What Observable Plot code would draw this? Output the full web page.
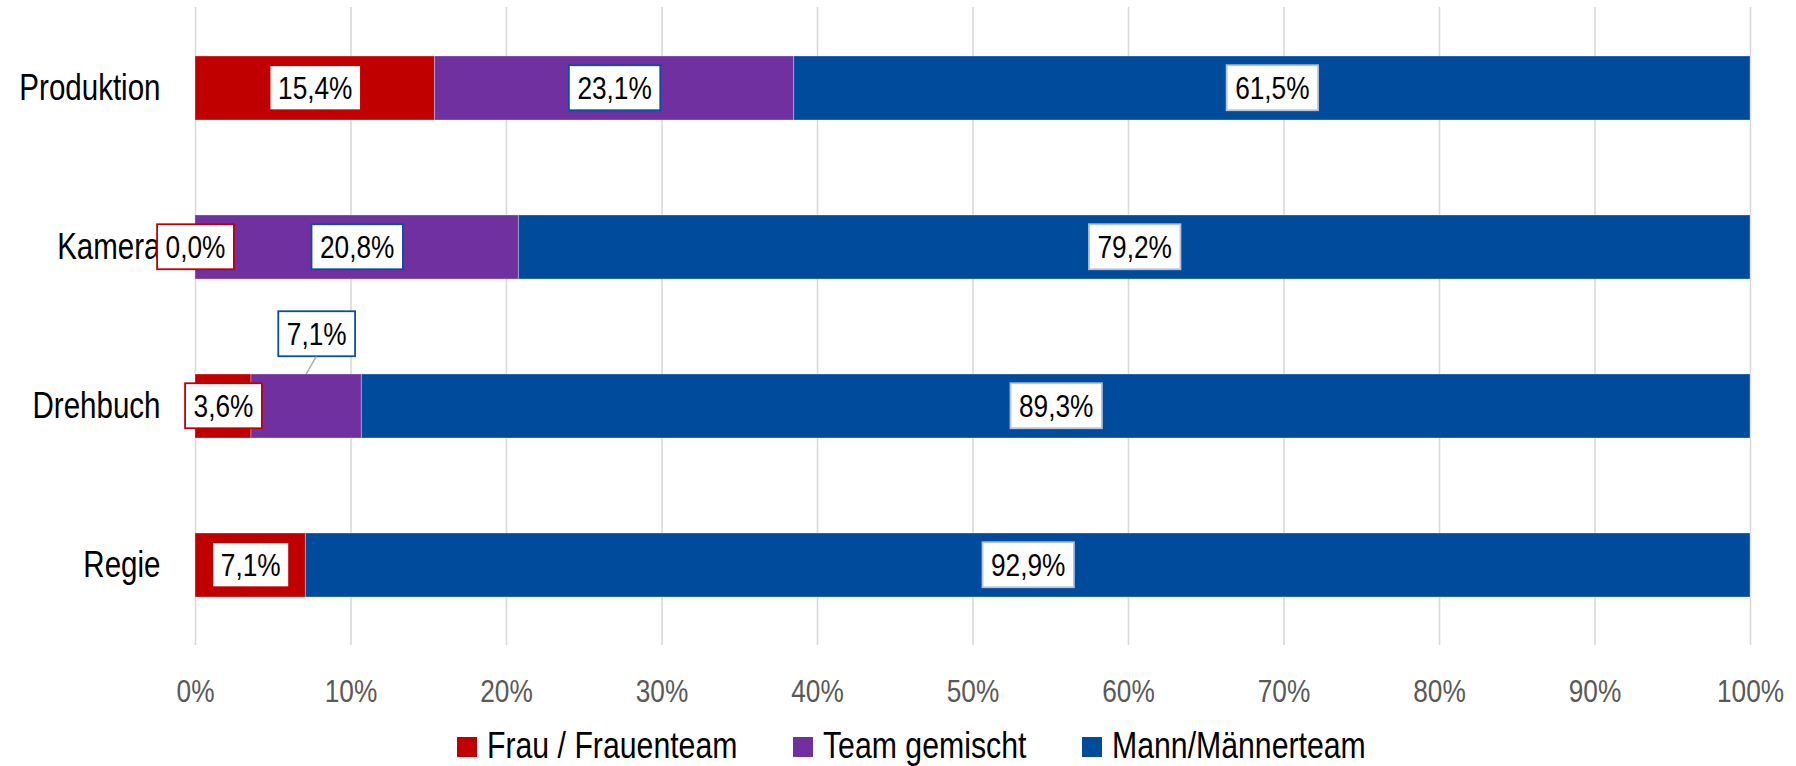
<!DOCTYPE html>
<html>
<head>
<meta charset="utf-8">
<script src="https://cdn.jsdelivr.net/npm/d3@7"></script>
<script src="https://cdn.jsdelivr.net/npm/@observablehq/plot@0.6"></script>
<style>
  html, body { margin: 0; padding: 0; background: #fff; }
  body { width: 1796px; height: 766px; overflow: hidden; font-family: "Liberation Sans", Arial, sans-serif; }
  #legend { display: flex; justify-content: center; align-items: center; gap: 56px; height: 41px; margin-top: 5px; padding-left: 27px; font-size: 36px; color: #000; line-height: 41px; }
  #legend .item { display: flex; align-items: center; white-space: nowrap; }
  #legend .sw { display: inline-block; width: 20px; height: 20px; margin-right: 10px; flex: none; position: relative; top: 1px; }
  #legend .tx { display: inline-block; white-space: nowrap; transform-origin: 0 50%; }
</style>
</head>
<body>
<div id="chart"></div>
<div id="legend"></div>
<script>
const categories = ["Produktion", "Kamera", "Drehbuch", "Regie"];
const series = ["Frau / Frauenteam", "Team gemischt", "Mann/Männerteam"];
const frau = [15.4, 0.0, 3.6, 7.1];
const gemischt = [23.1, 20.8, 7.1, null];
const mann = [61.5, 79.2, 89.3, 92.9];
const colors = ["#c00000", "#7030a0", "#004b9b"];
const boxColors = ["#c00000", "#0a4ea2", "#b4c3de"];
const xTicks = [0, 10, 20, 30, 40, 50, 60, 70, 80, 90, 100];
// label moved above the bar with a leader line
const calloutCategory = "Drehbuch";
const calloutSeries = "Team gemischt";

const NARROW = 0.82;        // emulate a narrow typeface
const NARROW_LEGEND = 0.84;
const FONT = '"Liberation Sans", Arial, sans-serif';

const valuesBySeries = [frau, gemischt, mann];
const data = [];
categories.forEach((c, i) => {
  series.forEach((s, j) => {
    data.push({category: c, series: s, value: valuesBySeries[j][i]});
  });
});

const fmt = v => v.toFixed(1).replace(".", ",") + "%";
const isCallout = d => d.category === calloutCategory && d.series === calloutSeries;
const stackOpts = extra => Plot.stackX({x: d => d.value ?? 0, y: "category", order: null, ...extra});

const labelMarks = series.map((s, j) => Plot.text(data, stackOpts({
  text: d => (d.series === s && d.value != null && !isCallout(d)) ? fmt(d.value) : null,
  fontSize: 32,
  fill: "#000",
  ariaLabel: () => "lbl-" + j
})));

const chart = Plot.plot({
  width: 1796,
  height: 720,
  marginTop: 7,
  marginBottom: 75,
  marginLeft: 195,
  marginRight: 46,
  style: {fontFamily: FONT, background: "#fff", overflow: "visible"},
  x: {domain: [0, 100]},
  y: {domain: categories, paddingInner: 0.6, paddingOuter: 0.3},
  color: {domain: series, range: colors},
  marks: [
    Plot.gridX({ticks: xTicks, stroke: "#d9d9d9", strokeOpacity: 1, strokeWidth: 1.6}),
    Plot.barX(data, stackOpts({fill: "series", stroke: "#ffffff", strokeOpacity: 0.3, strokeWidth: 1})),
    Plot.axisX({ticks: xTicks, tickFormat: d => d + "%", tickSize: 0, tickPadding: 34, fontSize: 32, color: "#595959", label: null}),
    Plot.axisY({tickSize: 0, tickPadding: 35, fontSize: 36, color: "#000", label: null}),
    ...labelMarks,
    Plot.text(data, stackOpts({
      text: d => isCallout(d) ? fmt(d.value) : null,
      fontSize: 32, fill: "#000", dx: 10, dy: -72,
      ariaLabel: () => "lbl-1"
    }))
  ]
});

document.getElementById("chart").appendChild(chart);
const svgEl = chart.tagName.toLowerCase() === "svg" ? chart : chart.querySelector("svg");
const svg = d3.select(svgEl);

// condense all texts
svg.selectAll("text").each(function() {
  const len = this.getComputedTextLength();
  if (len > 0) {
    this.setAttribute("textLength", len * NARROW);
    this.setAttribute("lengthAdjust", "spacingAndGlyphs");
  }
});

// white label boxes behind the data labels
const svgNS = "http://www.w3.org/2000/svg";
series.forEach((s, j) => {
  svg.selectAll(`text[aria-label="lbl-${j}"]`).each(function() {
    const bb = this.getBBox();
    const w = +this.getAttribute("textLength") || bb.width;
    const padX = 8.5, h = 45;
    const cx = bb.x + bb.width / 2, cy = bb.y + bb.height / 2;
    const r = document.createElementNS(svgNS, "rect");
    r.setAttribute("x", cx - w / 2 - padX);
    r.setAttribute("y", cy - h / 2);
    r.setAttribute("width", w + 2 * padX);
    r.setAttribute("height", h);
    r.setAttribute("fill", "#fff");
    r.setAttribute("stroke", boxColors[j]);
    r.setAttribute("stroke-width", 1.8);
    const t = this.getAttribute("transform");
    if (t) r.setAttribute("transform", t);
    this.parentNode.insertBefore(r, this);
  });
});

// leader line for the callout label
const xs = chart.scale("x"), ys = chart.scale("y");
const ci = categories.indexOf(calloutCategory);
const mid = frau[ci] + gemischt[ci] / 2;
const barTop = ys.apply(calloutCategory);
const px = xs.apply(mid);
const labelCy = barTop + ys.bandwidth / 2 - 72;
svg.append("line")
  .attr("x1", px + 10).attr("y1", labelCy + 22.5)
  .attr("x2", px).attr("y2", barTop)
  .attr("stroke", "#a6a6a6").attr("stroke-width", 1.5);

// legend
const legend = document.getElementById("legend");
series.forEach((s, j) => {
  const item = document.createElement("span");
  item.className = "item";
  const sw = document.createElement("span");
  sw.className = "sw";
  sw.style.background = colors[j];
  const holder = document.createElement("span");
  holder.style.display = "inline-block";
  holder.style.overflow = "visible";
  const tx = document.createElement("span");
  tx.className = "tx";
  tx.textContent = s;
  holder.appendChild(tx);
  item.appendChild(sw);
  item.appendChild(holder);
  legend.appendChild(item);
  const w = tx.getBoundingClientRect().width;
  holder.style.width = (w * NARROW_LEGEND) + "px";
  tx.style.transform = `scaleX(${NARROW_LEGEND})`;
});
</script>
</body>
</html>
